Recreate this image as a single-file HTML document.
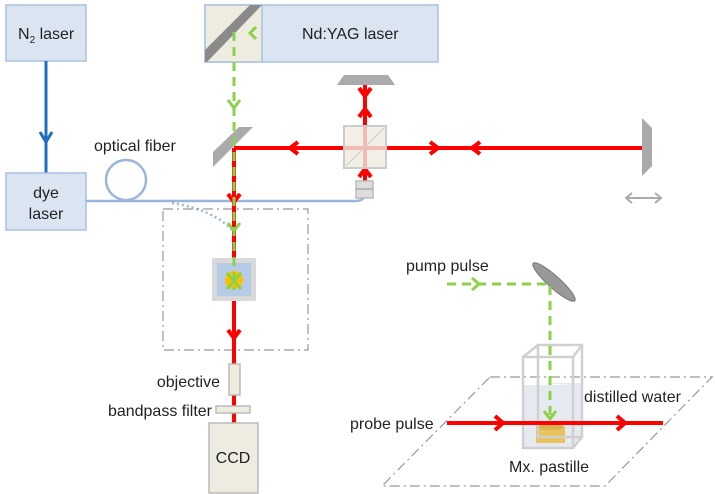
<!DOCTYPE html>
<html><head><meta charset="utf-8"><style>
body{margin:0;background:#fff}
svg{display:block}
text{font-family:"Liberation Sans",sans-serif;font-size:16px;fill:#222}
</style></head><body>
<svg width="715" height="494" viewBox="0 0 715 494" xmlns="http://www.w3.org/2000/svg">
<!-- N2 laser -->
<rect x="6" y="5" width="80" height="56" fill="#dbe5f2" stroke="#a9c1e0" stroke-width="1.5"/>
<text x="18" y="39">N<tspan font-size="10" dy="4">2</tspan><tspan dy="-4"> laser</tspan></text>
<line x1="46" y1="61" x2="46" y2="173" stroke="#1f6fc0" stroke-width="3"/>
<polyline points="40,132 46,142 52,132" fill="none" stroke="#1f6fc0" stroke-width="3"/>
<!-- dye laser -->
<rect x="6" y="173" width="80" height="57" fill="#dbe5f2" stroke="#a9c1e0" stroke-width="1.5"/>
<text x="46" y="198" text-anchor="middle">dye</text>
<text x="46" y="219" text-anchor="middle">laser</text>
<!-- fiber -->
<text x="94" y="151">optical fiber</text>
<circle cx="126" cy="180" r="20" fill="none" stroke="#9ab6da" stroke-width="2.5"/>
<path d="M86,201 L355,201 Q364,201 364,195" fill="none" stroke="#9ab6da" stroke-width="2.5"/>
<path d="M172,203 Q215,210 234,232" fill="none" stroke="#9ab6da" stroke-width="2.5" stroke-dasharray="2,3"/>
<!-- Nd:YAG -->
<rect x="205" y="5" width="233" height="57" fill="#dbe5f2" stroke="#a9c1e0" stroke-width="1.5"/>
<rect x="205" y="5" width="57" height="57" fill="#eeebe0" stroke="#a9c1e0" stroke-width="1.5"/>
<polygon points="205,50 250,5 262,5 207,62 205,62" fill="#8a8a8a"/>
<text x="302" y="39">Nd:YAG laser</text>
<!-- dash-dot box -->
<rect x="163" y="209" width="145" height="141" fill="none" stroke="#999" stroke-width="1.2" stroke-dasharray="10,4,2,4"/>
<!-- red beams -->
<g stroke="#ff0000" stroke-width="4" fill="none">
<line x1="234" y1="148" x2="642" y2="148"/>
<line x1="234" y1="148" x2="234" y2="423"/>
<line x1="365" y1="85" x2="365" y2="181"/>
<polyline points="298,142 290,148 298,154"/>
<polyline points="430,142 438,148 430,154"/>
<polyline points="480,142 472,148 480,154"/>
<polyline points="228,194 234,202 240,194"/>
<polyline points="228,330 234,338 240,330"/>
<polyline points="359,88 365,96 371,88"/>
<polyline points="359,117 365,109 371,117"/>
<polyline points="359,177 365,169 371,177"/>
</g>
<!-- top mirror, cube, small element -->
<polygon points="344,75 388,75 395,85 337,85" fill="#aaa"/>
<rect x="344" y="126" width="42" height="42" fill="#eeebe0" fill-opacity="0.8" stroke="#ccc" stroke-width="2"/>
<line x1="346" y1="166" x2="384" y2="128" stroke="#ccc" stroke-width="1"/>
<rect x="356" y="181" width="17" height="17" fill="#ddd" stroke="#bbb" stroke-width="1.5"/>
<line x1="356" y1="189" x2="373" y2="189" stroke="#aaa" stroke-width="1.5"/>
<!-- right mirror -->
<polygon points="642,118 652,128 652,166 642,176" fill="#aaa"/>
<g stroke="#aaa" stroke-width="2" fill="none">
<line x1="626" y1="198" x2="661" y2="198"/>
<polyline points="632,193 626,198 632,203"/>
<polyline points="655,193 661,198 655,203"/>
</g>
<!-- mirror 45 -->
<polygon points="213,152 239,127 253,127 213,167" fill="#aaa"/>
<!-- sample -->
<rect x="212" y="258" width="44" height="43" fill="#d9d9d9"/>
<rect x="217" y="263" width="34" height="33" fill="#b5cbe8"/>
<circle cx="234" cy="280" r="9" fill="#ffc000"/>
<!-- green -->
<g stroke="#8cd14a" stroke-width="3" fill="none">
<line x1="234" y1="32" x2="234" y2="290" stroke-dasharray="9,6"/>
<polyline points="256,27 250,33 256,39"/>
<polyline points="228,100 234,108 240,100"/>
<polyline points="228,223 234,231 240,223"/>
<line x1="227" y1="273" x2="241" y2="289"/><line x1="241" y1="273" x2="227" y2="289"/>
</g>
<!-- objective, filter, CCD -->
<rect x="229" y="364" width="11" height="31" fill="#eeebe0" stroke="#bbb" stroke-width="1.5"/>
<rect x="216" y="406" width="34" height="7" fill="#eeebe0" stroke="#bbb" stroke-width="1.5"/>
<rect x="209" y="423" width="49" height="70" fill="#eeebe0" stroke="#bbb" stroke-width="1.5"/>
<text x="220" y="387" text-anchor="end">objective</text>
<text x="212" y="416" text-anchor="end">bandpass filter</text>
<text x="233" y="463" text-anchor="middle">CCD</text>
<!-- right inset -->
<polygon points="490,377 712,377 605,486 382,486" fill="none" stroke="#999" stroke-width="1.2" stroke-dasharray="10,4,2,4"/>
<text x="406" y="271">pump pulse</text>
<text x="350" y="429">probe pulse</text>
<text x="584" y="402">distilled water</text>
<text x="509" y="472">Mx. pastille</text>
<ellipse cx="554" cy="282" rx="28" ry="6" transform="rotate(42 554 282)" fill="#999" stroke="#777"/>
<!-- cuvette -->
<rect x="523" y="385" width="50" height="63" fill="#dfe5ee" opacity="0.8"/>
<polygon points="538,383 582,383 582,437 573,448 573,385" fill="#e6eaf0"/>
<rect x="536" y="427" width="29" height="16" fill="#e8c35e"/>
<ellipse cx="550" cy="427" rx="14.5" ry="3" fill="#d8b34e"/>
<g stroke="#d0d0d0" stroke-width="2.5" fill="none">
<rect x="523" y="357" width="50" height="91"/>
<rect x="538" y="345" width="44" height="92"/>
<line x1="523" y1="357" x2="538" y2="345"/><line x1="573" y1="357" x2="582" y2="345"/>
<line x1="573" y1="448" x2="582" y2="437"/>
</g>
<g stroke="#ff0000" stroke-width="4" fill="none">
<line x1="447" y1="423" x2="663" y2="423"/>
<polyline points="495,416 503,423 495,430"/>
<polyline points="617,416 625,423 617,430"/>
</g>
<g stroke="#8cd14a" stroke-width="3" fill="none">
<path d="M447,284 L550,284 L550,420" stroke-dasharray="9,6"/>
<polyline points="472,278 479,284 472,290"/>
<polyline points="544,411 550,419 556,411"/>
</g>
</svg>
</body></html>
